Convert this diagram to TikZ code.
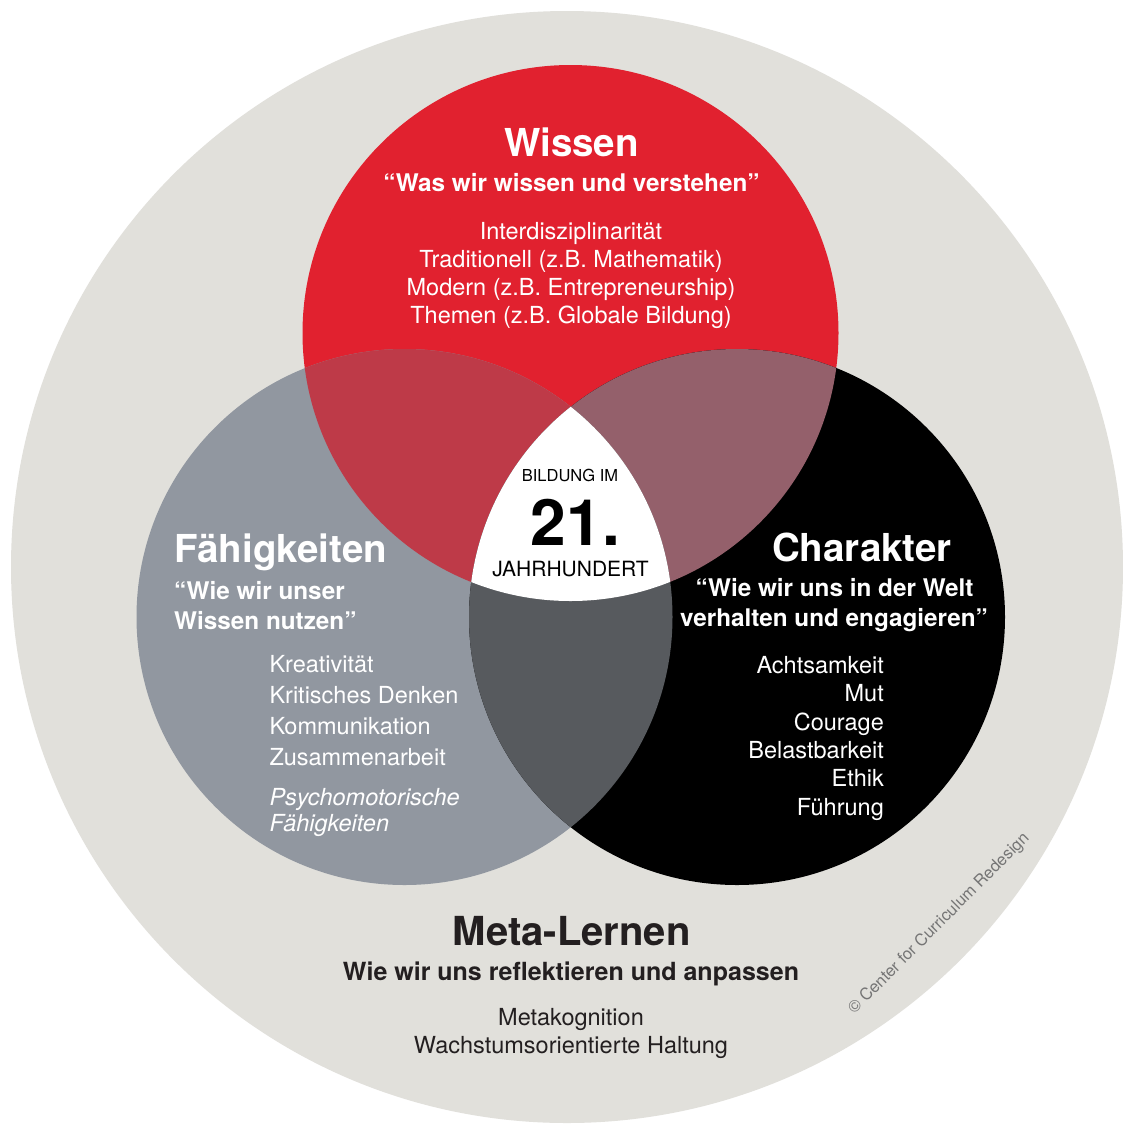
\documentclass[tikz,border=0pt]{standalone}
\usepackage{fontspec}
\setmainfont{TeX Gyre Heros}
\definecolor{metabg}{HTML}{E1E0DB}
\definecolor{wissenred}{HTML}{E1212F}
\definecolor{faehiggrey}{HTML}{9197A0}
\definecolor{charblack}{HTML}{000000}
\definecolor{wfmix}{HTML}{BE3A48}
\definecolor{wcmix}{HTML}{94606B}
\definecolor{fcmix}{HTML}{575A5E}
\definecolor{darktext}{HTML}{231F20}
\definecolor{creditgrey}{HTML}{757575}
\tikzset{
  txt/.style={inner sep=0pt, anchor=base},
  titletxt/.style={txt, font=\fontsize{38.5}{42}\selectfont\bfseries},
  quotetxt/.style={txt, font=\fontsize{24.3}{30}\selectfont\bfseries},
  itemtxt/.style={txt, font=\fontsize{23.5}{28}\selectfont},
  listtxt/.style={txt, font=\fontsize{23.5}{28}\selectfont},
}
\begin{document}
\begin{tikzpicture}[x=1pt,y=-1pt]
\useasboundingbox (0,0) rectangle (1123,1125);
\fill[white] (0,0) rectangle (1123,1125);

% outer ring: meta-learning
\fill[metabg] (567,567) circle (556pt);

% the three dimensions
\fill[wissenred] (570.5,333) circle (268pt);
\fill[faehiggrey] (404.5,617) circle (268pt);
\fill[charblack] (737,617) circle (268pt);

% pairwise overlaps
\begin{scope}
  \clip (570.5,333) circle (268pt);
  \fill[wfmix] (404.5,617) circle (268pt);
\end{scope}
\begin{scope}
  \clip (570.5,333) circle (268pt);
  \fill[wcmix] (737,617) circle (268pt);
\end{scope}
\begin{scope}
  \clip (404.5,617) circle (268pt);
  \fill[fcmix] (737,617) circle (268pt);
\end{scope}
% common centre
\begin{scope}
  \clip (570.5,333) circle (268pt);
  \clip (404.5,617) circle (268pt);
  \fill[white] (737,617) circle (268pt);
\end{scope}

% Wissen
\node[titletxt, text=white] (wissen) at (571.5,156.7) {Wissen};
\node[quotetxt, text=white] (wissenq) at (571.5,191) {“Was wir wissen und verstehen”};
\foreach \t [count=\i] in {Interdisziplinarität,Traditionell (z.B. Mathematik),Modern (z.B. Entrepreneurship),Themen (z.B. Globale Bildung)}
  \node[itemtxt, text=white] (wissen\i) at (571,{239+28.1*(\i-1)}) {\t};

% Faehigkeiten
\node[titletxt, text=white, anchor=base west] (faehig) at (174,562.7) {Fähigkeiten};
\node[quotetxt, text=white, anchor=base west] (faehigq1) at (174,599.3) {“Wie wir unser};
\node[quotetxt, text=white, anchor=base west] (faehigq2) at (174,629.3) {Wissen nutzen”};
\foreach \t [count=\i] in {Kreativität,Kritisches Denken,Kommunikation,Zusammenarbeit}
  \node[listtxt, text=white, anchor=base west] (faehig\i) at (269.3,{672.7+31*(\i-1)}) {\t};
\node[listtxt, text=white, anchor=base west, font=\fontsize{23.5}{28}\selectfont\itshape] (psycho1) at (269.3,805) {Psychomotorische};
\node[listtxt, text=white, anchor=base west, font=\fontsize{23.5}{28}\selectfont\itshape] (psycho2) at (269.3,831) {Fähigkeiten};

% Charakter
\node[titletxt, text=white] (charakter) at (862,561.7) {Charakter};
\node[quotetxt, text=white] (charq1) at (834.5,596.7) {“Wie wir uns in der Welt};
\node[quotetxt, text=white] (charq2) at (834,626.7) {verhalten und engagieren”};
\foreach \t [count=\i] in {Achtsamkeit,Mut,Courage,Belastbarkeit,Ethik,Führung}
  \node[listtxt, text=white, anchor=base east] (char\i) at (884,{673.3+28.4*(\i-1)}) {\t};

% centre label
\node[txt, font=\fontsize{16.5}{18}\selectfont] (bildung) at (570,481.7) {BILDUNG IM};
\node[txt, font=\fontsize{64}{66}\selectfont\bfseries] (jh21) at (575.4,545) {21.};
\node[txt, font=\fontsize{21}{24}\selectfont] (jahrhundert) at (570.5,576) {JAHRHUNDERT};

% Meta-Lernen
\node[txt, text=darktext, font=\fontsize{40}{44}\selectfont\bfseries] (meta) at (571.7,945) {Meta-Lernen};
\node[txt, text=darktext, font=\fontsize{25}{30}\selectfont\bfseries] (metaq) at (571,980.7) {Wie wir uns reflektieren und anpassen};
\node[listtxt, text=darktext] (meta1) at (571,1025) {Metakognition};
\node[listtxt, text=darktext] (meta2) at (571,1053.3) {Wachstumsorientierte Haltung};

% credit
\node[inner sep=0pt, text=creditgrey, rotate=45, font=\fontsize{16.5}{18}\selectfont] (credit) at (939,924) {© Center for Curriculum Redesign};
\end{tikzpicture}
\end{document}
